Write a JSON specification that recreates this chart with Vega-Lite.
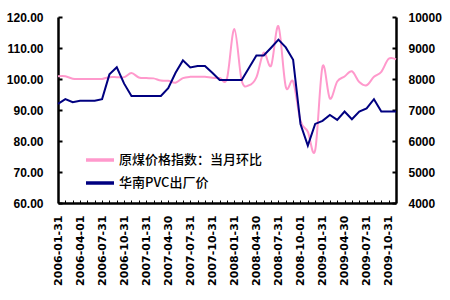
{
  "$schema": "https://vega.github.io/schema/vega-lite/v6.json",
  "autosize": "none",
  "width": 338,
  "height": 186,
  "padding": {"left": 58, "top": 17, "right": 54, "bottom": 97},
  "background": "white",
  "config": {"view": {"stroke": null}, "font": "Liberation Sans"},
  "data": {"values": [
    {"date": "2006-01-31", "coal": 100.9, "pvc": 7200},
    {"date": "2006-02-28", "coal": 100.9, "pvc": 7350},
    {"date": "2006-03-31", "coal": 100.1, "pvc": 7250},
    {"date": "2006-04-01", "coal": 100.0, "pvc": 7300},
    {"date": "2006-05-31", "coal": 100.0, "pvc": 7300},
    {"date": "2006-06-30", "coal": 100.0, "pvc": 7300},
    {"date": "2006-07-31", "coal": 100.0, "pvc": 7350},
    {"date": "2006-08-31", "coal": 100.6, "pvc": 8150},
    {"date": "2006-09-30", "coal": 100.6, "pvc": 8380},
    {"date": "2006-10-31", "coal": 100.6, "pvc": 7850},
    {"date": "2006-11-30", "coal": 101.9, "pvc": 7450},
    {"date": "2006-12-31", "coal": 100.5, "pvc": 7450},
    {"date": "2007-01-31", "coal": 100.3, "pvc": 7450},
    {"date": "2007-02-28", "coal": 100.2, "pvc": 7450},
    {"date": "2007-03-31", "coal": 99.5, "pvc": 7450},
    {"date": "2007-04-30", "coal": 99.4, "pvc": 7700},
    {"date": "2007-05-31", "coal": 98.8, "pvc": 8200},
    {"date": "2007-06-30", "coal": 100.3, "pvc": 8600},
    {"date": "2007-07-31", "coal": 100.7, "pvc": 8370},
    {"date": "2007-08-31", "coal": 100.7, "pvc": 8420},
    {"date": "2007-09-30", "coal": 100.7, "pvc": 8420},
    {"date": "2007-10-31", "coal": 100.4, "pvc": 8200},
    {"date": "2007-11-30", "coal": 100.3, "pvc": 7970},
    {"date": "2007-12-31", "coal": 100.2, "pvc": 7970},
    {"date": "2008-01-31", "coal": 116.1, "pvc": 7970},
    {"date": "2008-02-29", "coal": 99.5, "pvc": 7970},
    {"date": "2008-03-31", "coal": 98.0, "pvc": 8360},
    {"date": "2008-04-30", "coal": 100.5, "pvc": 8760},
    {"date": "2008-05-31", "coal": 108.5, "pvc": 8760},
    {"date": "2008-06-30", "coal": 104.3, "pvc": 9010},
    {"date": "2008-07-31", "coal": 117.0, "pvc": 9270},
    {"date": "2008-08-31", "coal": 97.5, "pvc": 9020},
    {"date": "2008-09-30", "coal": 99.2, "pvc": 8620},
    {"date": "2008-10-01", "coal": 86.5, "pvc": 6550},
    {"date": "2008-11-30", "coal": 83.0, "pvc": 5850},
    {"date": "2008-12-31", "coal": 77.0, "pvc": 6550},
    {"date": "2009-01-31", "coal": 104.0, "pvc": 6650},
    {"date": "2009-02-28", "coal": 93.7, "pvc": 6840},
    {"date": "2009-03-31", "coal": 99.2, "pvc": 6680},
    {"date": "2009-04-30", "coal": 100.8, "pvc": 6950},
    {"date": "2009-05-31", "coal": 102.5, "pvc": 6700},
    {"date": "2009-06-30", "coal": 99.0, "pvc": 6950},
    {"date": "2009-07-31", "coal": 98.0, "pvc": 7050},
    {"date": "2009-08-31", "coal": 100.7, "pvc": 7350},
    {"date": "2009-09-30", "coal": 102.3, "pvc": 6950},
    {"date": "2009-10-31", "coal": 106.5, "pvc": 6950},
    {"date": "2009-11-30", "coal": 106.3, "pvc": 6950}
  ]},
  "encoding": {
    "x": {
      "field": "date", "type": "ordinal", "sort": null,
      "scale": {"type": "point", "padding": 0},
      "axis": {
        "title": null,
        "labelAngle": -90,
        "labelExpr": "indexof(['01','04','07','10'], substring(datum.value, 5, 7)) >= 0 ? datum.value : ''",
        "labelOverlap": false,
        "labelFont": "DejaVu Sans",
        "labelFontWeight": "bold",
        "labelFontSize": 11,
        "labelColor": "#000000",
        "labelPadding": 15,
        "domainColor": "#000000",
        "domainWidth": 2.5,
        "tickColor": "#000000",
        "tickSize": -3,
        "tickWidth": 1,
        "grid": false
      }
    },
    "color": {
      "scale": {"domain": ["原煤价格指数：当月环比", "华南PVC出厂价"], "range": ["#FF99CC", "#000080"]},
      "legend": {
        "title": null,
        "orient": "none",
        "legendX": 26,
        "legendY": 127,
        "padding": 0,
        "symbolType": "stroke",
        "symbolSize": 784,
        "symbolStrokeWidth": 3.5,
        "labelFont": "Noto Sans CJK SC",
        "labelFontSize": 13,
        "labelFontWeight": 500,
        "labelColor": "#000000",
        "labelOffset": 3,
        "rowPadding": -7
      }
    }
  },
  "layer": [
    {
      "mark": {"type": "line", "interpolate": "cardinal", "strokeWidth": 2},
      "encoding": {
        "y": {
          "field": "coal", "type": "quantitative",
          "scale": {"domain": [60, 120], "nice": false, "zero": false},
          "axis": {
            "title": null, "orient": "left",
            "values": [60, 70, 80, 90, 100, 110, 120],
            "format": ".2f",
            "labelFont": "Liberation Sans", "labelFontWeight": "bold", "labelFontSize": 12,
            "labelColor": "#000000", "labelPadding": 19,
            "domainColor": "#000000", "domainWidth": 2.5,
            "tickColor": "#000000", "tickSize": -4, "tickWidth": 2,
            "grid": false
          }
        },
        "color": {"datum": "原煤价格指数：当月环比"}
      }
    },
    {
      "mark": {"type": "line", "strokeWidth": 2},
      "encoding": {
        "y": {
          "field": "pvc", "type": "quantitative",
          "scale": {"domain": [4000, 10000], "nice": false, "zero": false},
          "axis": {
            "title": null, "orient": "right",
            "values": [4000, 5000, 6000, 7000, 8000, 9000, 10000],
            "format": "d",
            "labelFont": "Liberation Sans", "labelFontWeight": "bold", "labelFontSize": 12,
            "labelColor": "#000000", "labelPadding": 16,
            "domainColor": "#000000", "domainWidth": 2.5,
            "tickColor": "#000000", "tickSize": -4, "tickWidth": 2,
            "grid": false
          }
        },
        "color": {"datum": "华南PVC出厂价"}
      }
    }
  ],
  "resolve": {"scale": {"y": "independent"}}
}
